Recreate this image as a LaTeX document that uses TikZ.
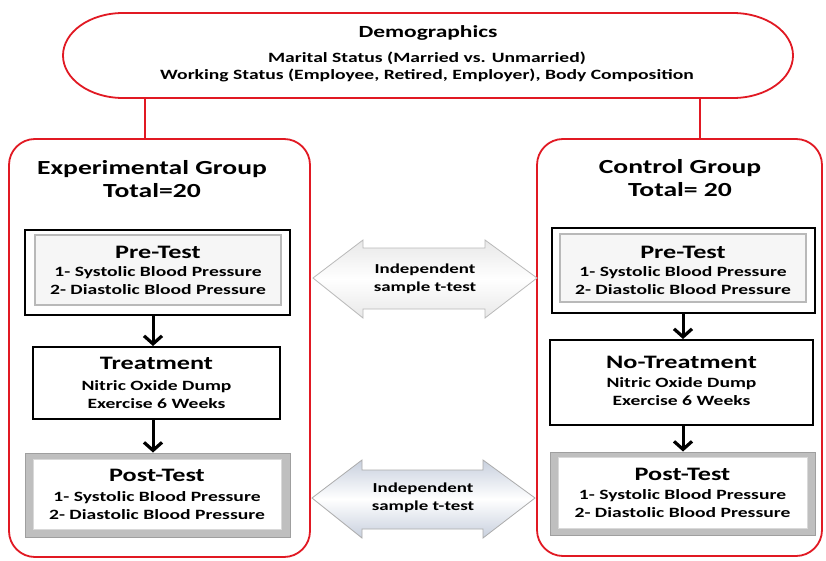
\documentclass[tikz,border=0pt]{standalone}
\usepackage{fontspec}
\setmainfont{Carlito}[FakeStretch=1.38]
\usetikzlibrary{arrows.meta}
\definecolor{myred}{RGB}{225,25,35}
\definecolor{arrowfill}{RGB}{200,208,222}
\newcommand{\fsz}[2]{\fontsize{#1}{#2}\selectfont\bfseries}
\begin{document}
\begin{tikzpicture}[x=1pt,y=-1pt,
  box/.style={rectangle, inner sep=0pt, anchor=center},
  grp/.style={box, draw=myred, line width=1.8pt, rounded corners=26pt},
  outerbox/.style={box, draw=black, line width=2pt, fill=white},
  innerbox/.style={box, draw=gray!55, line width=2.2pt, fill=gray!7},
  postouter/.style={box, draw=gray!75, line width=1pt, fill=gray!50},
  postinner/.style={box, draw=gray!30, line width=1pt, fill=white},
  redline/.style={draw=myred, line width=2.5pt},
  flow/.style={draw=black, line width=3pt, -{Straight Barb[length=8pt,width=18pt,line width=3.2pt]}},
  dblA/.style={draw=gray!55, line width=0.8pt, top color=gray!18, bottom color=gray!18, middle color=white},
  dblB/.style={draw=gray!65, line width=0.8pt, top color=arrowfill, bottom color=arrowfill, middle color=white},
  ttl/.style={align=center, inner sep=0pt, font=\fsz{19}{21}},
  body/.style={align=center, inner sep=0pt, font=\fsz{14.2}{18}},
  grpttl/.style={align=center, inner sep=0pt, font=\fsz{20}{23}},
  tt/.style={align=center, inner sep=0pt, font=\fsz{13.7}{18}}
]
\useasboundingbox (0,0) rectangle (826,561);
\fill[white] (0,0) rectangle (826,561);

% Demographics
\node[box, minimum width=730pt, minimum height=85pt] (demo) at (428,55.5) {};
\draw[myred, line width=1.8pt] (123,13) -- (733,13)
  .. controls (766.1,13) and (793,32) .. (793,55.5)
  .. controls (793,79) and (766.1,98) .. (733,98) -- (123,98)
  .. controls (89.9,98) and (63,79) .. (63,55.5)
  .. controls (63,32) and (89.9,13) .. (123,13) -- cycle;
\node[align=center, inner sep=0pt, font=\fsz{17}{20}] (demoT) at (428,33) {Demographics};
\node[align=center, inner sep=0pt, font=\fsz{14.2}{17}] (demoB) at (427,66.5) {Marital Status (Married vs. Unmarried)\\Working Status (Employee, Retired, Employer), Body Composition};

% Groups
\node[grp, minimum width=301pt, minimum height=418pt] (lgrp) at (159.5,348) {};
\node[grp, minimum width=285pt, minimum height=417pt] (rgrp) at (679.5,347.5) {};
\coordinate (cl) at (145,0);
\coordinate (cr) at (700,0);
\draw[redline] (cl |- demo.south) -- (cl |- lgrp.north);
\draw[redline] (cr |- demo.south) -- (cr |- rgrp.north);
\node[grpttl] (lgT) at (152,179.5) {Experimental Group\\Total=20};
\node[grpttl] (rgT) at (680,178.5) {Control Group\\Total= 20};

% Left column
\node[outerbox, minimum width=265pt, minimum height=85pt] (lpre) at (157.5,272.5) {};
\node[innerbox, minimum width=246pt, minimum height=70pt] (lpreI) at (158,270) {};
\node[ttl] (lpreT) at (158,252) {Pre-Test};
\node[body] (lpreB) at (158,281) {1- Systolic Blood Pressure\\2- Diastolic Blood Pressure};

\node[outerbox, minimum width=247pt, minimum height=72pt] (ltr) at (156.5,383) {};
\node[ttl] (ltrT) at (156.5,363) {Treatment};
\node[body] (ltrB) at (156.5,395) {Nitric Oxide Dump\\Exercise 6 Weeks};

\node[postouter, minimum width=265pt, minimum height=84pt] (lpost) at (157.5,495) {};
\node[postinner, minimum width=248pt, minimum height=70pt] (lpostI) at (157,494) {};
\node[ttl] (lpostT) at (157,475) {Post-Test};
\node[body] (lpostB) at (157,506) {1- Systolic Blood Pressure\\2- Diastolic Blood Pressure};

\coordinate (ax) at (153,0);
\draw[flow] (ax |- lpre.south) -- (ax |- ltr.north);
\draw[flow] (ax |- ltr.south) -- (ax |- lpost.north);

% Right column
\node[outerbox, minimum width=263pt, minimum height=85pt] (rpre) at (683.5,270.5) {};
\node[innerbox, minimum width=246pt, minimum height=68pt] (rpreI) at (683,268) {};
\node[ttl] (rpreT) at (683,252) {Pre-Test};
\node[body] (rpreB) at (683,281) {1- Systolic Blood Pressure\\2- Diastolic Blood Pressure};

\node[outerbox, minimum width=263pt, minimum height=85pt] (rtr) at (681.5,382.5) {};
\node[ttl] (rtrT) at (681.5,362) {No-Treatment};
\node[body] (rtrB) at (681.5,391.5) {Nitric Oxide Dump\\Exercise 6 Weeks};

\node[postouter, minimum width=265pt, minimum height=83pt] (rpost) at (682.5,493.5) {};
\node[postinner, minimum width=249pt, minimum height=71pt] (rpostI) at (682.5,492.5) {};
\node[ttl] (rpostT) at (682.5,474) {Post-Test};
\node[body] (rpostB) at (682.5,504) {1- Systolic Blood Pressure\\2- Diastolic Blood Pressure};

\coordinate (bx) at (683,0);
\draw[flow] (bx |- rpre.south) -- (bx |- rtr.north);
\draw[flow] (bx |- rtr.south) -- (bx |- rpost.north);

% Double arrows
\draw[dblA] (313,278) -- (363,240) -- (363,248) -- (485,248) -- (485,240) -- (537,278)
  -- (485,318) -- (485,309) -- (363,309) -- (363,318) -- cycle;
\node[tt] (ttA) at (425,279) {Independent\\sample t-test};
\draw[dblB] (312,498) -- (362,460) -- (362,470) -- (483,470) -- (483,460) -- (535,498)
  -- (483,538) -- (483,529) -- (362,529) -- (362,538) -- cycle;
\node[tt] (ttB) at (423,497.5) {Independent\\sample t-test};
\end{tikzpicture}
\end{document}
